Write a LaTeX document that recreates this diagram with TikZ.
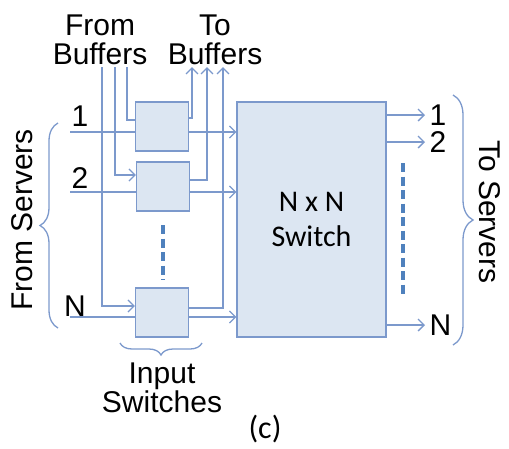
\documentclass[tikz,border=0pt]{standalone}
\usepackage{fontspec}
\setmainfont{Liberation Sans}
\newfontfamily\calib{Carlito}
\usetikzlibrary{arrows.meta,positioning,decorations.pathreplacing}

\definecolor{wirecol}{RGB}{124,153,204}
\definecolor{boxfill}{RGB}{220,230,242}
\definecolor{dotcol}{RGB}{79,129,189}

\begin{document}
\begin{tikzpicture}[x=1pt,y=-1pt,>={Straight Barb[length=6pt,width=12pt,line width=1.3pt]},
	every node/.style={font=\fontsize{30}{29}\selectfont},
	wire/.style={draw=wirecol,line width=1.4pt},
	insw/.style={draw=wirecol,fill=boxfill,line width=1.2pt,minimum width=53pt,minimum height=49pt,inner sep=0pt},
	dots/.style={draw=dotcol,line width=4.5pt,dash pattern=on 9pt off 4.5pt},
	brc/.style={draw=wirecol,line width=1.3pt,decorate,decoration={brace,amplitude=#1}}]
	\useasboundingbox (0,0) rectangle (509,448);

	\node[insw] (sw1) at (162,126.5) {};
	\node[insw] (sw2) at (163,186.5) {};
	\node[insw] (swN) at (162,312.5) {};
	\node[insw, minimum width=149pt, minimum height=235pt, align=center,
		font=\calib\fontsize{30}{35}\selectfont] (nxn) at (311.5,219.5) {N x N\\Switch};

	% labels
	\node[align=center] (fbuf) at (100,40) {From\\Buffers};
	\node[align=center] (tbuf) at (215,40) {To\\Buffers};
	\node (in1lbl) at (80,116) {1};
	\node (in2lbl) at (80,178) {2};
	\node (inNlbl) at (75,306) {N};
	\node[rotate=90] (fsrv) at (22,220) {From Servers};
	\node[rotate=-90] (tsrv) at (490,212) {To Servers};
	\node[align=center] (inlbl) at (162,388) {Input\\Switches};
	\node[inner sep=0pt,font=\calib\fontsize{32}{34}\selectfont] (cap) at (265,429) {(c)};

	% inputs from servers
	\coordinate (in1) at (70,132);
	\coordinate (in2) at (70,192);
	\coordinate (inN) at (70,317);
	\draw[wire] (in1) -- (in1 -| sw1.west);
	\draw[wire,->] (in1 -| sw1.east) -- (in1 -| nxn.west);
	\draw[wire] (in2) -- (in2 -| sw2.west);
	\draw[wire,->] (in2 -| sw2.east) -- (in2 -| nxn.west);
	\draw[wire] (inN) -- (inN -| swN.west);
	\draw[wire,->] (inN -| swN.east) -- (inN -| nxn.west);

	% buffers
	\coordinate (fb1) at (127,67);
	\coordinate (fb2) at (115,67);
	\coordinate (fbN) at (102,67);
	\coordinate (tb1) at (192,67);
	\coordinate (tb2) at (207,67);
	\coordinate (tbN) at (223,67);
	\draw[wire] (fb1) |- ([yshift=6.5pt]sw1.west);
	\draw[wire,->] (fb2) |- ([yshift=11.5pt]sw2.west);
	\draw[wire,->] (fbN) |- ([yshift=6.5pt]swN.west);
	\draw[wire,->] ([yshift=8.5pt]sw1.east) -| (tb1);
	\draw[wire,->] ([yshift=6.5pt]sw2.east) -| (tb2);
	\draw[wire,->] ([yshift=4.5pt]swN.east) -| (tbN);

	% outputs to servers
	\coordinate (o1) at (425,115);
	\coordinate (o2) at (425,142);
	\coordinate (oN) at (425,325);
	\draw[wire,->] (o1 -| nxn.east) -- (o1);
	\draw[wire,->] (o2 -| nxn.east) -- (o2);
	\draw[wire,->] (oN -| nxn.east) -- (oN);
	\node[right=1pt of o1] (out1lbl) {1};
	\node[right=1pt of o2] (out2lbl) {2};
	\node[right=1pt of oN] (outNlbl) {N};

	\draw[dots] (163,225) -- (163,280);
	\draw[dots] (403,163) -- (403,298);

	% braces
	\draw[brc=18pt] (58,328) -- (58,123);
	\draw[brc=20pt] (453,95) -- (453,345);
	\draw[brc=12pt] (202,343) -- (120,343);
\end{tikzpicture}
\end{document}
